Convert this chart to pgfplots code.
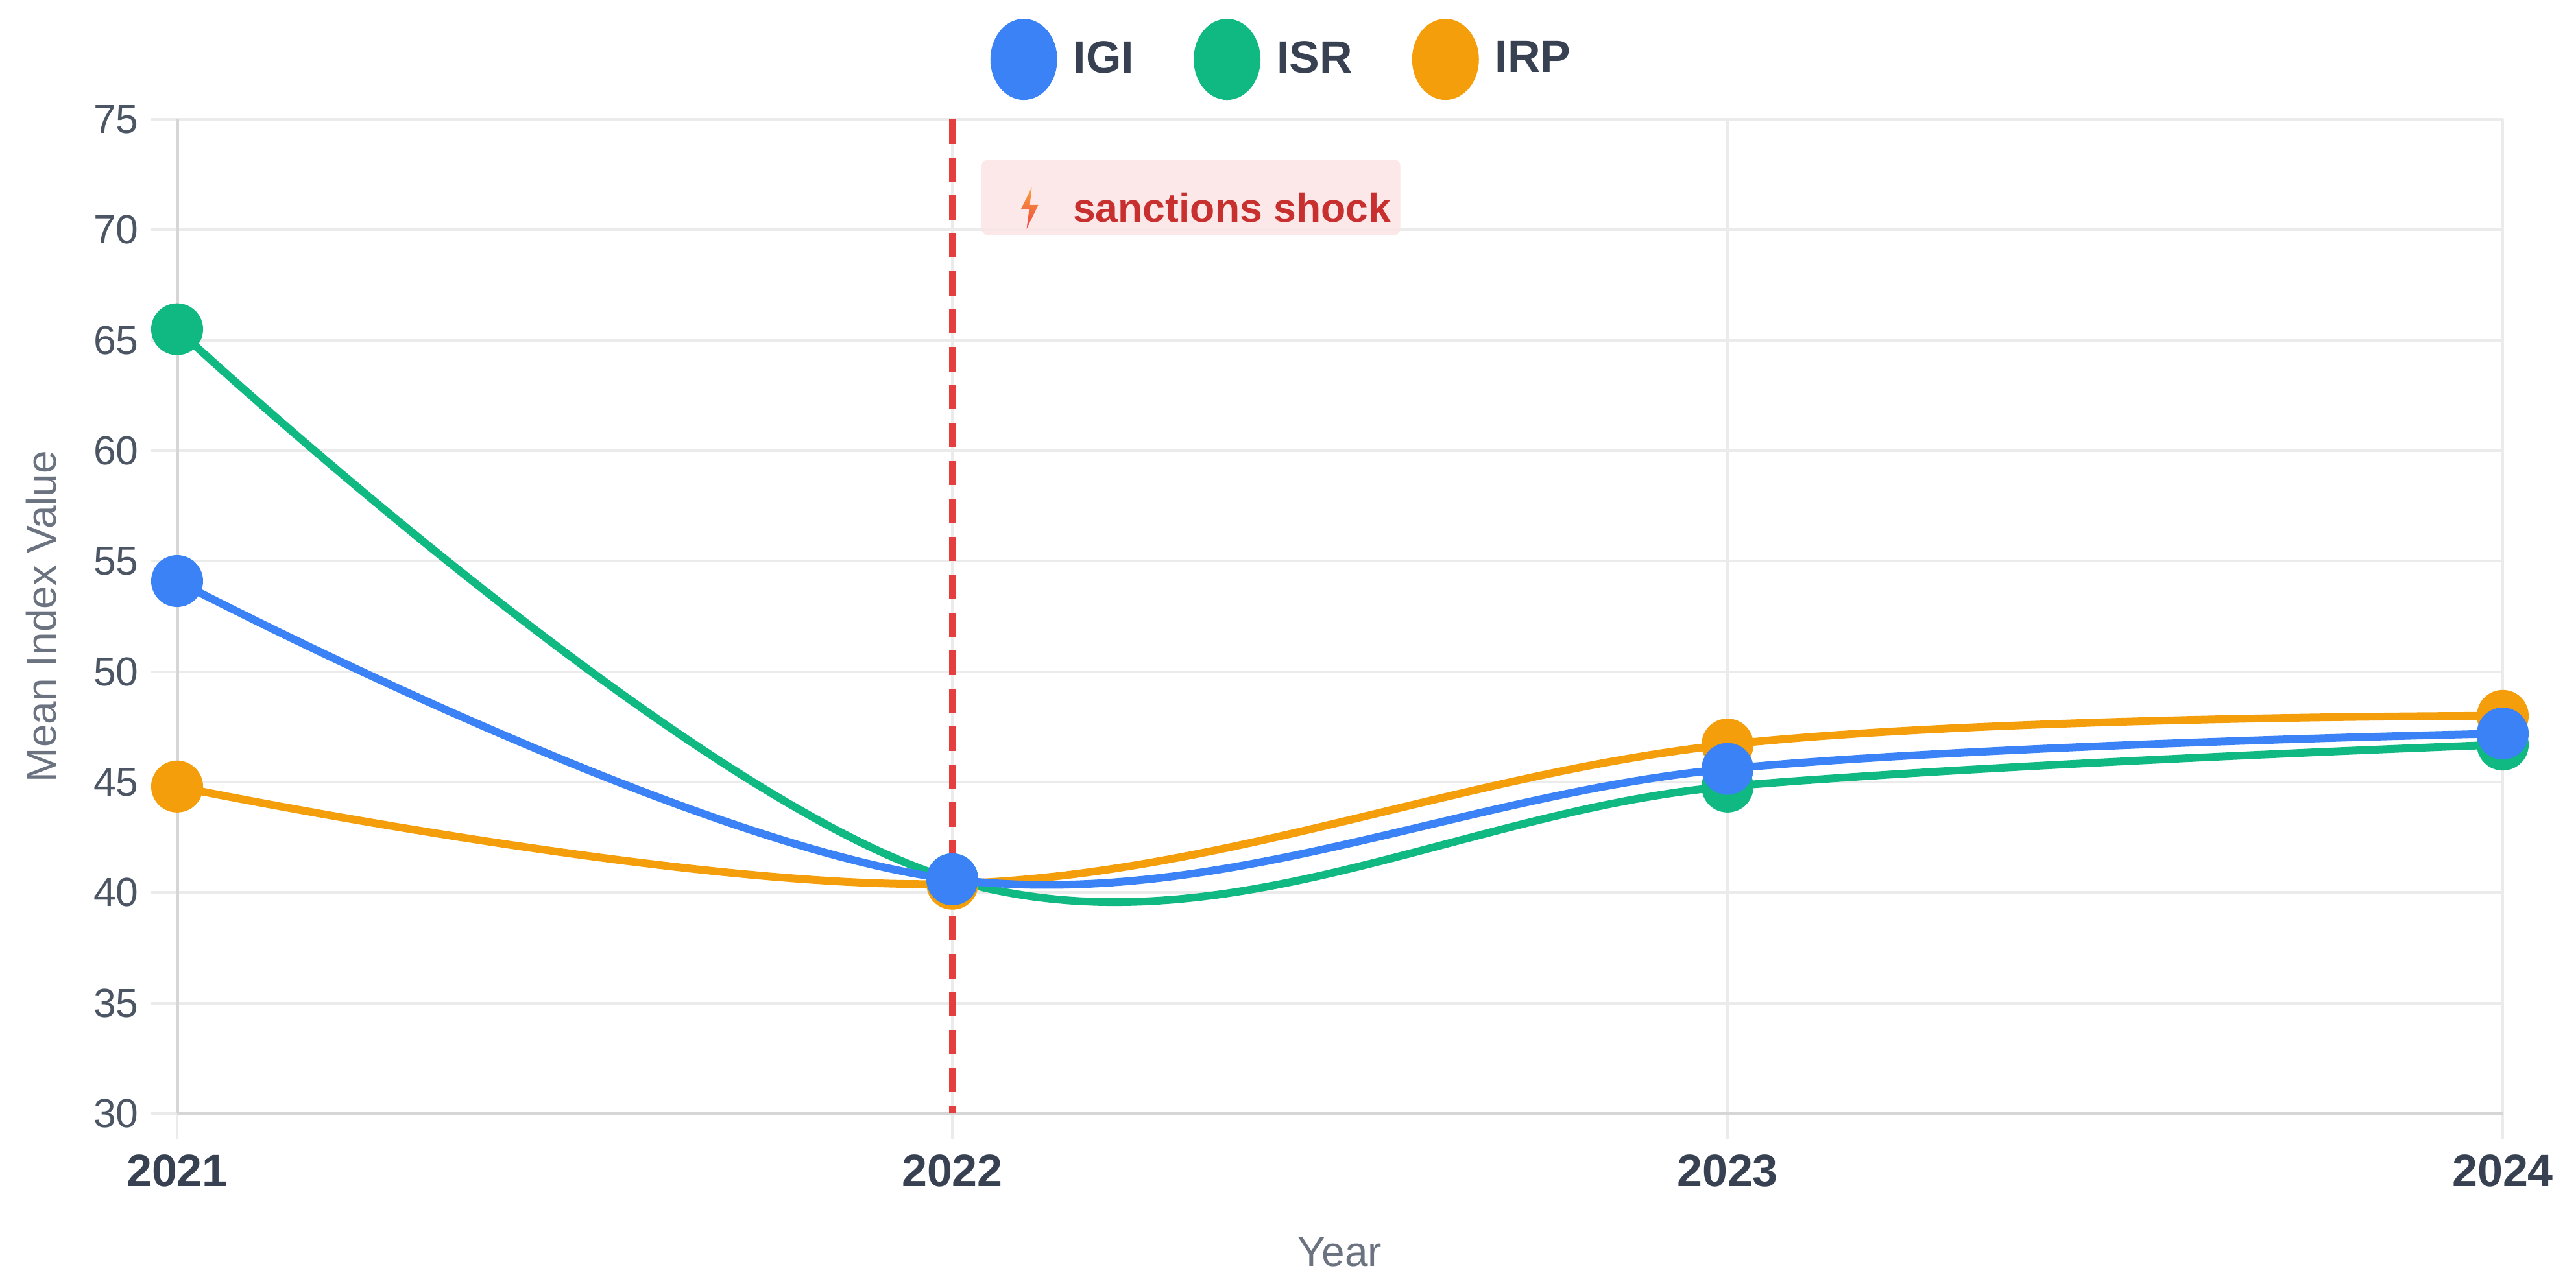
\documentclass[border=0pt]{standalone}
\usepackage{pgfplots}
\pgfplotsset{compat=1.18}
\usepackage{fontspec}
\setmainfont{Liberation Sans}
\definecolor{igi}{HTML}{3B82F6}
\definecolor{isr}{HTML}{10B981}
\definecolor{irp}{HTML}{F59E0B}
\definecolor{gridc}{HTML}{EBEBEB}
\definecolor{axisc}{HTML}{D6D6D6}
\definecolor{ytickc}{HTML}{4B5563}
\definecolor{xtickc}{HTML}{374151}
\definecolor{labelc}{HTML}{6B7280}
\definecolor{shockred}{HTML}{E53E3E}
\definecolor{boxfill}{HTML}{FBE4E5}
\definecolor{shocktext}{HTML}{C8302F}
\definecolor{boltA}{HTML}{F9A23C}
\definecolor{boltB}{HTML}{EF4444}
\begin{document}
\begin{tikzpicture}
\path[use as bounding box] (-54.6pt,-53pt) rectangle (739.6pt,343.4pt);
\begin{axis}[
  at={(0,0)}, anchor=south west,
  scale only axis, width=717pt, height=306.6pt,
  xmin=2021, xmax=2024, ymin=30, ymax=75,
  clip=false,
  xtick={2021,2022,2023,2024}, xticklabels={2021,2022,2023,2024},
  ytick={30,35,...,75},
  grid=major, grid style={draw=gridc, line width=0.8pt},
  axis x line*=bottom, axis y line*=left,
  axis line style={-, draw=axisc, line width=1pt},
  tick align=outside, major tick length=8pt,
  tick style={draw=gridc, line width=0.8pt},
  /pgf/number format/assume math mode=true,
  xticklabel style={font=\fontsize{14}{16}\selectfont\bfseries, text=xtickc, inner sep=0pt, anchor=north},
  yticklabel style={font=\fontsize{12.5}{15}\selectfont, text=ytickc, inner sep=0pt, anchor=east},
  xticklabel shift=4.5pt,
  yticklabel shift=3.7pt,
  xlabel={Year}, ylabel={Mean Index Value},
  label style={font=\fontsize{12.8}{15}\selectfont, text=labelc},
  xlabel style={at={([yshift=-47pt]axis description cs:0.5,0)}, anchor=base},
  ylabel style={at={([xshift=-41.8pt]axis description cs:0,0.5)}, anchor=center},
  legend columns=3,
  reverse legend,
  legend style={draw=none, fill=none, at={(axis description cs:0.4745,1.0603)}, anchor=center,
    font=\fontsize{14}{16}\selectfont\bfseries, text=xtickc, inner sep=0pt,
    nodes={inner sep=0pt},
    /tikz/every odd column/.append style={column sep=5.0pt},
    /tikz/every even column/.append style={column sep=18.4pt}},
  legend cell align=left,
  legend image code/.code={\fill (0pt,0pt) ellipse [x radius=9.1pt, y radius=11.3pt];},
  every axis plot/.append style={line width=2.4pt, smooth, tension=0.62, mark=*, mark size=6.8pt, mark options={solid}},
]
\addplot[irp] coordinates {
  (2021,44.8) (2022,40.4) (2023,46.7) (2024,48.0)};
\addlegendentry{IRP}
\addplot[isr] coordinates {
  (2021,65.5) (2022,40.6) (2023,44.8) (2024,46.7)};
\addlegendentry{ISR}
\addplot[igi] coordinates {
  (2021,54.1) (2022,40.6) (2023,45.6) (2024,47.2)};
\addlegendentry{IGI}
\draw[shockred, line width=2.1pt, dash pattern=on 7.5pt off 4.2pt] (axis cs:2022,75) -- (axis cs:2022,30);
\fill[boxfill, opacity=0.85, rounded corners=2pt] (axis cs:2022.0377,73.18) rectangle (axis cs:2022.578,69.75);
\node[anchor=base west, inner sep=0pt, text=shocktext, font=\fontsize{12.5}{15}\selectfont\bfseries] at (axis cs:2022.155,70.36) {sanctions shock};
\shade[top color=boltA, bottom color=boltB] (axis cs:2022.1,70.98) ++(0.6pt,6.4pt) -- ++(-3.4pt,-6.8pt) -- ++(2.6pt,0pt) -- ++(-0.8pt,-6.0pt) -- ++(3.6pt,7.4pt) -- ++(-2.6pt,0pt) -- cycle;
\end{axis}
\end{tikzpicture}
\end{document}
